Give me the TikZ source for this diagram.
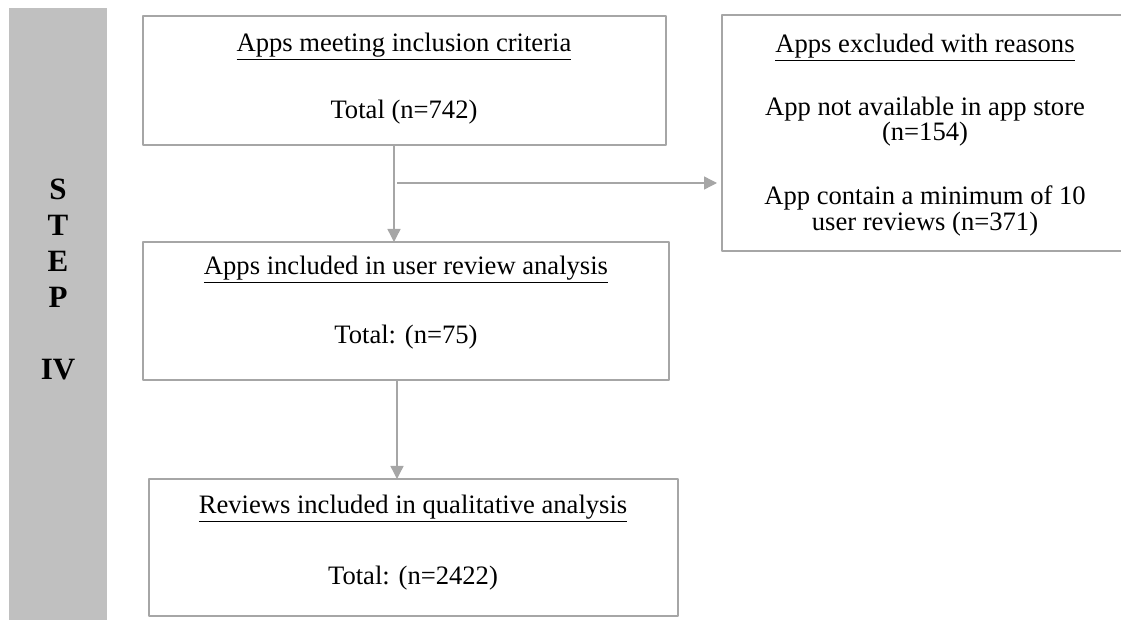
\documentclass[tikz,border=0pt]{standalone}
\usepackage{fontspec}
\setmainfont{Liberation Serif}
\usetikzlibrary{arrows.meta,positioning}
\definecolor{lineg}{RGB}{166,166,166}
\definecolor{barg}{RGB}{192,192,192}

\begin{document}
\begin{tikzpicture}[x=0.5pt,y=-0.5pt,>=Triangle,line join=round,
  box/.style={draw=lineg,line width=0.8pt,inner sep=0pt,outer sep=0pt},
  txt/.style={font=\fontsize{13.3}{12.6}\selectfont,align=center,inner sep=0pt},
  arr/.style={->,draw=lineg,line width=0.7pt,>={Triangle[length=6.5pt,width=6.5pt]}}]
  \useasboundingbox (0,0) rectangle (1121,620);
  % side bar
  \fill[barg] (9,8) rectangle (107,625);
  \node[font=\fontsize{15.5}{18}\selectfont\bfseries,align=center,inner sep=0pt] (stp) at (58,279)
    {S\\T\\E\\P\\[18pt]IV};
  % boxes
  \node[box,minimum width=261.5pt,minimum height=64.5pt] (incl) at (404.5,80.5) {};
  \node[box,minimum width=263pt,minimum height=69pt] (rev) at (406,311) {};
  \node[box,minimum width=264.5pt,minimum height=68.5pt] (qual) at (413.5,547.5) {};
  \node[box,minimum width=210pt,minimum height=118pt] (excl) at (932,133) {};
  % texts
  \node[txt] (t1) at (404,47) {\underline{Apps meeting inclusion criteria}};
  \node[txt] (n1) at (404,112) {Total (n=742)};
  \node[txt] (t2) at (406,270) {\underline{Apps included in user review analysis}};
  \node[txt] (n2) at (406,337) {Total: (n=75)};
  \node[txt] (t4) at (413,509) {\underline{Reviews included in qualitative analysis}};
  \node[txt] (n4) at (413,578) {Total: (n=2422)};
  \node[txt] (t3) at (925,48) {\underline{Apps excluded with reasons}};
  \node[txt] (n3a) at (925,122) {App not available in app store\\(n=154)};
  \node[txt] (n3b) at (925,211) {App contain a minimum of 10\\user reviews (n=371)};
  % arrows
  \coordinate (sp) at (394,183);
  \coordinate (br) at (397,183);
  \coordinate (sp2) at (397,430);
  \draw[arr] (incl.south -| sp) -- (rev.north -| sp);
  \draw[arr,shorten >=2.5pt] (br) -- (excl.west |- br);
  \draw[arr] (rev.south -| sp2) -- (qual.north -| sp2);
\end{tikzpicture}
\end{document}
